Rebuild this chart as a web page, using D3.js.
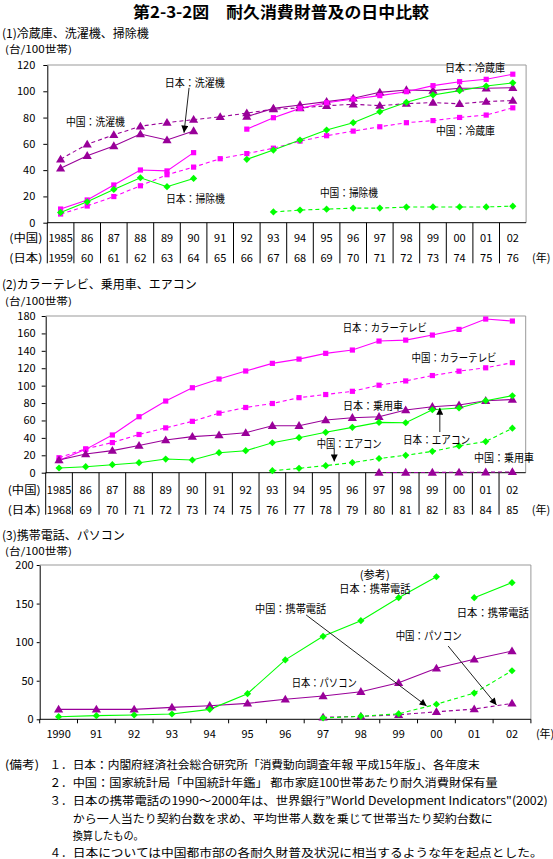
<!DOCTYPE html>
<html>
<head>
<meta charset="utf-8">
<script src="https://cdn.jsdelivr.net/npm/d3@7"></script>
<style>
body { margin: 0; background: #fff; }
svg { display: block; font-family: "Noto Sans CJK JP", "Noto Sans", sans-serif; }
</style>
</head>
<body>
<svg width="553" height="859"></svg>
<script>
// ---------- data ----------
// (1) fridge, washing machine, vacuum cleaner
var cnYears1 = ["1985","86","87","88","89","90","91","92","93","94","95","96","97","98","99","00","01","02"];
var jpYears1 = ["1959","60","61","62","63","64","65","66","67","68","69","70","71","72","73","74","75","76"];
var ticks1 = [0, 20, 40, 60, 80, 100, 120];
var jpFridge  = [10.4, 17.3, 28.7, 40.1, 39.4, 53.3, null, 71.2, 79.9, 87.0, 91.3, 94.1, 96.7, 99.7, 104.3, 107.3, 109.1, 113.0];
var cnFridge  = [6.6, 12.7, 19.9, 28.1, 36.5, 42.3, 48.7, 52.6, 56.7, 62.1, 66.2, 69.7, 73.0, 76.1, 77.7, 80.1, 81.9, 87.4];
var jpWasher  = [41.4, 51.0, 58.4, 67.5, 62.9, 69.8, null, 80.7, 87.0, 89.6, 92.1, 94.7, 99.2, 101.0, 100.5, 102.3, 102.3, 102.7];
var cnWasher  = [48.3, 59.7, 66.8, 73.4, 76.2, 78.4, 80.6, 83.4, 86.4, 87.3, 89.0, 90.1, 89.1, 90.6, 91.4, 90.5, 92.2, 92.9];
var jpVacuum  = [7.8, 15.9, 25.3, 34.2, 27.4, 33.7, null, 48.2, 55.3, 62.9, 70.5, 76.1, 84.5, 91.6, 97.2, 100.5, 104.0, 106.4];
var cnVacuum  = [null, null, null, null, null, null, null, null, 8.2, 9.6, 10.3, 11.1, 11.1, 11.9, 12.0, 12.0, 12.0, 12.6];

// (2) colour TV, car, air conditioner
var cnYears2 = cnYears1;
var jpYears2 = ["1968","69","70","71","72","73","74","75","76","77","78","79","80","81","82","83","84","85"];
var ticks2 = [0, 20, 40, 60, 80, 100, 120, 140, 160, 180];
var jpTV  = [14.0, 26.8, 43.3, 64.3, 82.3, 97.6, 107.6, 116.8, 125.6, 130.5, 137.1, 140.9, 151.2, 152.3, 158.1, 164.6, 176.5, 174.2];
var cnTV  = [17.2, 27.4, 34.6, 43.9, 51.5, 59.0, 68.4, 74.9, 79.5, 86.2, 89.8, 93.5, 100.5, 105.4, 111.6, 116.6, 120.5, 126.4];
var jpCar = [14.6, 21.5, 25.4, 31.2, 37.5, 41.4, 43.3, 45.9, 54.0, 54.0, 60.5, 63.2, 64.3, 72.0, 75.8, 77.7, 82.7, 84.0];
var cnCar = [null, null, null, null, null, null, null, null, null, null, null, null, 0.2, 0.3, 0.3, 0.5, 0.6, 0.9];
var jpAC  = [5.4, 6.9, 9.2, 11.5, 15.7, 14.6, 23.0, 25.3, 34.4, 40.2, 46.4, 52.1, 57.8, 57.4, 72.3, 74.3, 82.7, 88.4];
var cnAC  = [null, null, null, null, null, null, null, null, 2.3, 5.0, 8.1, 11.6, 16.3, 20.0, 24.5, 30.8, 35.8, 51.1];

// (3) mobile phone, PC
var years3 = ["1990","91","92","93","94","95","96","97","98","99","00","01","02"];
var ticks3 = [0, 50, 100, 150, 200];
var jpMobileRef = [3.4, 4.7, 5.6, 6.9, 12.9, 33.2, 77.0, 107.6, 127.8, 157.6, 184.8, null, null];
var jpMobile    = [null, null, null, null, null, null, null, null, null, null, null, 157.6, 177.1];
var cnMobile    = [null, null, null, null, null, null, null, 1.7, 4.0, 7.1, 19.5, 34.0, 62.9];
var jpPC        = [12.9, 12.9, 12.9, 15.5, 17.6, 20.7, 25.9, 30.2, 35.8, 47.4, 66.1, 77.8, 88.5];
var cnPC        = [null, null, null, null, null, null, null, 2.6, 3.8, 5.9, 9.7, 13.3, 20.6];

var notes = [
  ["１．", "日本：内閣府経済社会総合研究所「消費動向調査年報 平成15年版」、各年度末", 407],
  ["２．", "中国：国家統計局「中国統計年鑑」 都市家庭100世帯あたり耐久消費財保有量", 425],
  ["３．", "日本の携帯電話の1990～2000年は、世界銀行”World Development Indicators\"(2002)", 475],
  ["", "から一人当たり契約台数を求め、平均世帯人数を乗じて世帯当たり契約台数に", 420],
  ["", "換算したもの。", 71],
  ["４．", "日本については中国都市部の各耐久財普及状況に相当するような年を起点とした。", 470]
];

// ---------- drawing ----------
var svg = d3.select("svg");
var MAG = "#ff00ff", PUR = "#990099", GRN = "#00ff00";

var markerPath = {
  square: "M-2.6,-2.6h5.2v5.2h-5.2z",
  triangle: "M0,-4.6L4.6,3.2L-4.6,3.2Z",
  diamond: "M0,-3.6L3.6,0L0,3.6L-3.6,0Z"
};

svg.append("defs").append("marker")
  .attr("id", "arr")
  .attr("viewBox", "0 0 10 10")
  .attr("refX", 10).attr("refY", 5)
  .attr("markerWidth", 8).attr("markerHeight", 7)
  .attr("markerUnits", "userSpaceOnUse")
  .attr("orient", "auto")
  .append("path").attr("d", "M0,0L10,5L0,10z").attr("fill", "#000");

function txt(x, y, s, size, opts) {
  opts = opts || {};
  var t = svg.append("text")
    .attr("x", x).attr("y", y)
    .attr("dominant-baseline", "central")
    .attr("font-size", size)
    .attr("text-anchor", opts.anchor || "start")
    .attr("fill", "#000")
    .text(s);
  if (opts.bold) t.attr("font-weight", "bold");
  if (opts.w) t.attr("textLength", opts.w).attr("lengthAdjust", "spacingAndGlyphs");
  return t;
}

function chart(c) {
  var n = c.cats.length;
  var x = d3.scaleBand().domain(d3.range(n)).range([c.left, c.right]);
  var step = x.step();
  var y = d3.scaleLinear().domain([0, c.yMax]).range([c.bottom, c.top]);
  var g = svg.append("g");

  // gray frame top / right
  g.append("path")
    .attr("d", "M" + c.left + "," + c.top + "H" + c.right + "V" + c.bottom)
    .attr("fill", "none").attr("stroke", "#999");

  // y axis
  var ya = g.append("g")
    .attr("transform", "translate(" + c.left + ",0)")
    .call(d3.axisLeft(y).tickValues(c.ticks).tickSize(c.tick).tickSizeOuter(0).tickPadding(c.pad));
  ya.attr("font-size", 11).attr("font-family", null);
  ya.select(".domain").attr("stroke", "#000");

  // bottom axis line
  g.append("line")
    .attr("x1", c.left).attr("x2", c.right)
    .attr("y1", c.bottom).attr("y2", c.bottom)
    .attr("stroke", "#000");

  if (c.table) {
    // table-like category axis with two year rows
    g.selectAll(null).data(d3.range(n)).enter().append("line")
      .attr("x1", function (i) { return x(i); }).attr("x2", function (i) { return x(i); })
      .attr("y1", c.bottom).attr("y2", c.bottom + c.table.h)
      .attr("stroke", "#000");
    c.table.rows.forEach(function (r) {
      r.labels.forEach(function (s, i) {
        txt(x(i) + step / 2, r.y, s, 11, { anchor: "middle" });
      });
      txt(c.left - 5, r.y, r.head, 11, { anchor: "end", w: 33 });
    });
    txt(c.right + 6, c.table.rows[1].y, "(年)", 11);
  } else {
    g.selectAll(null).data(d3.range(n + 1)).enter().append("line")
      .attr("x1", function (i) { return c.left + i * step; })
      .attr("x2", function (i) { return c.left + i * step; })
      .attr("y1", c.bottom).attr("y2", c.bottom + 4)
      .attr("stroke", "#000");
    c.cats.forEach(function (s, i) {
      txt(x(i) + step / 2, c.labelY, s, 11, { anchor: "middle" });
    });
    txt(c.right + 5, c.labelY, "(年)", 11);
  }

  // series lines
  var line = d3.line()
    .defined(function (d) { return d.v != null; })
    .x(function (d) { return x(d.i) + step / 2; })
    .y(function (d) { return y(d.v); });
  c.series.forEach(function (s) {
    var pts = s.values.map(function (v, i) { return { i: i, v: v }; });
    g.append("path").datum(pts)
      .attr("d", line)
      .attr("fill", "none")
      .attr("stroke", s.color)
      .attr("stroke-width", 1.1)
      .attr("stroke-dasharray", s.dash ? "4,3" : null);
  });
  c.series.forEach(function (s) {
    var pts = s.values.map(function (v, i) { return { i: i, v: v }; })
      .filter(function (d) { return d.v != null; });
    g.selectAll(null).data(pts).enter().append("path")
      .attr("transform", function (d) { return "translate(" + (x(d.i) + step / 2) + "," + y(d.v) + ")"; })
      .attr("d", markerPath[s.marker])
      .attr("fill", s.color);
  });

  // annotation arrows
  (c.arrows || []).forEach(function (a) {
    g.append("line")
      .attr("x1", c.left + a[0] * step).attr("y1", y(a[1]))
      .attr("x2", c.left + a[2] * step).attr("y2", y(a[3]))
      .attr("stroke", "#222").attr("stroke-width", 1)
      .attr("marker-end", "url(#arr)");
  });

  // series labels
  c.labels.forEach(function (l) {
    txt(c.left + l[1] * step, y(l[2]), l[0], 11, { w: l[3] });
  });
}

// title and headings
txt(281, 11, "第2-3-2図　耐久消費財普及の日中比較", 16, { anchor: "middle", bold: true, w: 296 });

txt(2, 32, "(1)冷蔵庫、洗濯機、掃除機", 12);
txt(5, 48.5, "(台/100世帯)", 10, { w: 67 });
chart({
  cats: cnYears1, left: 47.3, right: 526.1, top: 65, bottom: 222.7,
  yMax: 120, ticks: ticks1, tick: 4, pad: 8,
  table: { h: 40.6, rows: [ { head: "(中国)", y: 237, labels: cnYears1 }, { head: "(日本)", y: 257, labels: jpYears1 } ] },
  series: [
    { values: cnWasher, color: PUR, dash: true, marker: "triangle" },
    { values: jpWasher, color: PUR, dash: false, marker: "triangle" },
    { values: cnFridge, color: MAG, dash: true, marker: "square" },
    { values: jpFridge, color: MAG, dash: false, marker: "square" },
    { values: cnVacuum, color: GRN, dash: true, marker: "diamond" },
    { values: jpVacuum, color: GRN, dash: false, marker: "diamond" }
  ],
  arrows: [ [5.33, 102.6, 5.14, 68.5] ],
  labels: [
    ["日本：洗濯機", 4.42, 107.3, 60],
    ["中国：洗濯機", 0.70, 77.6, 59],
    ["日本：掃除機", 4.46, 18.8, 59],
    ["日本：冷蔵庫", 14.95, 118.3, 60],
    ["中国：冷蔵庫", 14.61, 70.5, 59],
    ["中国：掃除機", 10.25, 23.4, 58]
  ]
});

txt(2, 283, "(2)カラーテレビ、乗用車、エアコン", 12);
txt(5, 300.5, "(台/100世帯)", 10, { w: 67 });
chart({
  cats: cnYears2, left: 45.7, right: 525.7, top: 316, bottom: 472.7,
  yMax: 180, ticks: ticks2, tick: 4, pad: 6,
  table: { h: 42, rows: [ { head: "(中国)", y: 489, labels: cnYears2 }, { head: "(日本)", y: 508.5, labels: jpYears2 } ] },
  series: [
    { values: cnTV, color: MAG, dash: true, marker: "square" },
    { values: jpTV, color: MAG, dash: false, marker: "square" },
    { values: cnCar, color: PUR, dash: true, marker: "triangle" },
    { values: jpCar, color: PUR, dash: false, marker: "triangle" },
    { values: cnAC, color: GRN, dash: true, marker: "diamond" },
    { values: jpAC, color: GRN, dash: false, marker: "diamond" }
  ],
  arrows: [ [10.82, 27.5, 10.82, 13.0], [14.78, 46.7, 14.78, 74.5] ],
  labels: [
    ["日本：カラーテレビ", 11.14, 166.9, 84],
    ["中国：カラーテレビ", 13.72, 133.2, 85],
    ["日本：乗用車", 11.15, 77.7, 60],
    ["中国：エアコン", 10.16, 34.4, 65],
    ["日本：エアコン", 13.40, 38.3, 67],
    ["中国：乗用車", 16.06, 18.4, 60]
  ]
});

txt(2, 534, "(3)携帯電話、パソコン", 12);
txt(5, 550, "(台/100世帯)", 10, { w: 67 });
chart({
  cats: years3, left: 39.7, right: 530.9, top: 565, bottom: 719.3,
  yMax: 200, ticks: ticks3, tick: 3, pad: 3, labelY: 733,
  series: [
    { values: jpPC, color: PUR, dash: false, marker: "triangle" },
    { values: cnPC, color: PUR, dash: true, marker: "triangle" },
    { values: jpMobileRef, color: GRN, dash: false, marker: "diamond" },
    { values: jpMobile, color: GRN, dash: false, marker: "diamond" },
    { values: cnMobile, color: GRN, dash: true, marker: "diamond" }
  ],
  arrows: [ [7.05, 135.3, 10.24, 17.2], [10.81, 95, 12.09, 18.5] ],
  labels: [
    ["(参考)", 8.47, 188.3, 30],
    ["日本：携帯電話", 7.93, 169.8, 71],
    ["中国：携帯電話", 5.70, 144.7, 71],
    ["日本：携帯電話", 11.04, 139.5, 72],
    ["中国：パソコン", 9.42, 109.3, 66],
    ["日本：パソコン", 6.67, 48.7, 65]
  ]
});

// notes
txt(5, 764, "(備考)", 11.5, { w: 34 });
var noteY = [764, 782, 800, 817.5, 834.5, 851.5];
notes.forEach(function (d, i) {
  if (d[0]) txt(49.6, noteY[i], d[0], 11.5);
  txt(72.7, noteY[i], d[1], 11.5, { w: d[2] });
});
</script>
</body>
</html>
